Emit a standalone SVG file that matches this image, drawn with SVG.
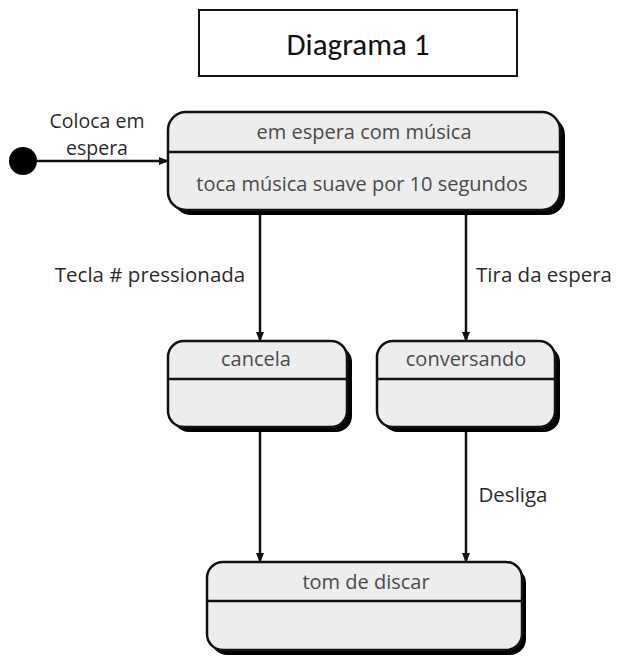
<svg xmlns="http://www.w3.org/2000/svg" width="620" height="657" viewBox="0 0 620 657">
<style>
.st{fill:#ededed;stroke:#111;stroke-width:2.5}
.sh{fill:#000}
.dv{stroke:#111;stroke-width:2.5}
.t{font-family:"Open Sans","Liberation Sans",sans-serif;font-size:20px;fill:#4a4a4a;text-anchor:middle}
.l{font-family:"Open Sans","Liberation Sans",sans-serif;font-size:20.5px;fill:#2a2a2a;text-anchor:middle}
.c{stroke:#111;stroke-width:2.5;fill:none;marker-end:url(#ah)}
</style>
<defs>
<marker id="ah" markerWidth="10" markerHeight="10" refX="9" refY="5" orient="auto" markerUnits="userSpaceOnUse"><path d="M0,1 L10,5 L0,9 Z" fill="#111"/></marker>
</defs>
<rect width="620" height="657" fill="#fff"/>
<g id="title">
<rect x="199" y="10" width="318" height="66" fill="#fff" stroke="#111" stroke-width="2"/>
<text x="358" y="55" font-family="Carlito,'Open Sans','Liberation Sans',sans-serif" font-size="31" fill="#111" text-anchor="middle">Diagrama 1</text>
</g>
<g id="connectors">
<line x1="37" y1="161" x2="168" y2="161" class="c"/>
<line x1="260" y1="213" x2="260" y2="341" class="c"/>
<line x1="466" y1="213" x2="466" y2="341" class="c"/>
<line x1="260" y1="430" x2="260" y2="562" class="c"/>
<line x1="466" y1="430" x2="466" y2="562" class="c"/>
</g>
<g id="labels">
<text class="l" x="97" y="128" style="font-size:19.5px">Coloca em</text>
<text class="l" x="97" y="155" style="font-size:19.5px">espera</text>
<text class="l" x="150" y="282">Tecla # pressionada</text>
<text class="l" x="544" y="282">Tira da espera</text>
<text class="l" x="513" y="502">Desliga</text>
</g>
<g id="initial"><circle cx="23" cy="161" r="14" fill="#000"/></g>
<g id="espera">
<rect class="sh" x="173" y="117" width="392" height="98" rx="18"/>
<rect class="st" x="168" y="112" width="392" height="98" rx="18"/>
<line class="dv" x1="168" y1="152" x2="560" y2="152"/>
<text class="t" x="364" y="139">em espera com música</text>
<text class="t" x="362" y="191">toca música suave por 10 segundos</text>
</g>
<g id="cancela">
<rect class="sh" x="173" y="346" width="179" height="86" rx="16"/>
<rect class="st" x="168" y="341" width="179" height="86" rx="16"/>
<line class="dv" x1="168" y1="379" x2="347" y2="379"/>
<text class="t" x="256" y="366">cancela</text>
</g>
<g id="conversando">
<rect class="sh" x="382" y="346" width="178" height="86" rx="16"/>
<rect class="st" x="377" y="341" width="178" height="86" rx="16"/>
<line class="dv" x1="377" y1="379" x2="555" y2="379"/>
<text class="t" x="466" y="366">conversando</text>
</g>
<g id="tom">
<rect class="sh" x="211" y="567" width="315" height="88" rx="16"/>
<rect class="st" x="207" y="562" width="315" height="88" rx="16"/>
<line class="dv" x1="207" y1="601" x2="522" y2="601"/>
<text class="t" x="366" y="589">tom de discar</text>
</g>
</svg>
